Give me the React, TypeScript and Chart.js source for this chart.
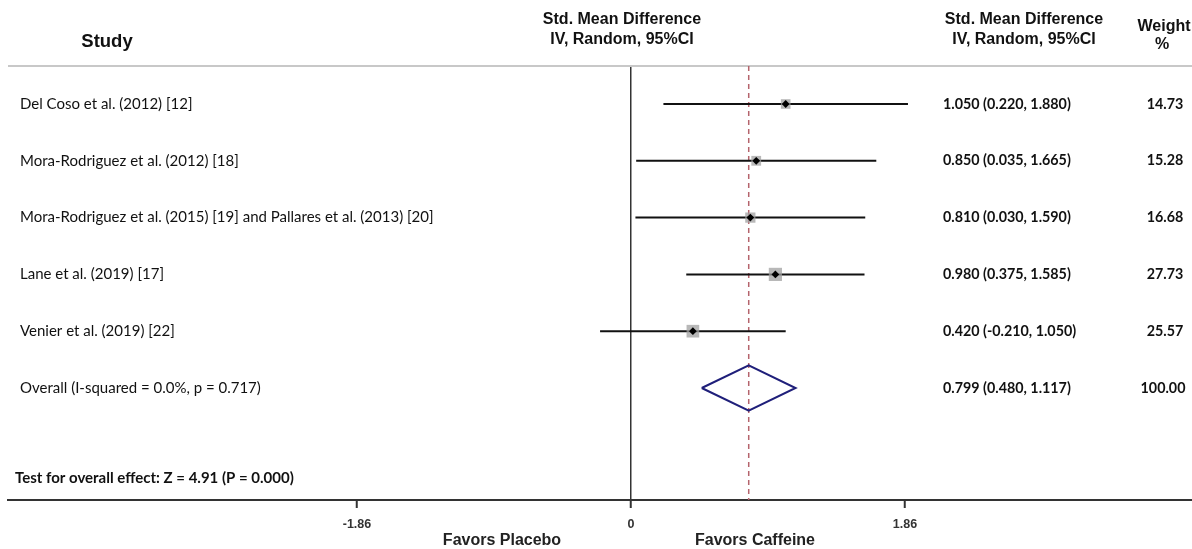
import React, { useEffect, useRef } from "react";
import { Chart, registerables } from "chart.js";

Chart.register(...registerables);

const studies = [
  "Del Coso et al. (2012) [12]",
  "Mora-Rodriguez et al. (2012) [18]",
  "Mora-Rodriguez et al. (2015) [19] and Pallares et al. (2013) [20]",
  "Lane et al. (2019) [17]",
  "Venier et al. (2019) [22]",
];
const estimates = [1.05, 0.85, 0.81, 0.98, 0.42];
const lowerCI = [0.22, 0.035, 0.03, 0.375, -0.21];
const upperCI = [1.88, 1.665, 1.59, 1.585, 1.05];
const weights = [14.73, 15.28, 16.68, 27.73, 25.57];

const overallLabel = "Overall (I-squared = 0.0%, p = 0.717)";
const pooledEstimate = 0.799;
const pooledLower = 0.48;
const pooledUpper = 1.117;
const pooledWeight = 100.0;

const axisTicks = [-1.86, 0, 1.86];
const testText = "Test for overall effect: Z = 4.91 (P = 0.000)";
const leftFavor = "Favors Placebo";
const rightFavor = "Favors Caffeine";

const X_MIN = -4.229;
const X_MAX = 3.808;
const Y_MIN = -0.669;
const Y_MAX = 6.972;

const fmt3 = (v: number) => v.toFixed(3);
const ARIAL = "'Liberation Sans', Arial, sans-serif";

export default function App() {
  const ref = useRef<HTMLCanvasElement | null>(null);

  useEffect(() => {
    if (!ref.current) return;
    const overallRow = studies.length;

    const ciDatasets = studies.map((_, i) => ({
      type: "line" as const,
      data: [
        { x: lowerCI[i], y: i },
        { x: upperCI[i], y: i },
      ],
      borderColor: "#111",
      borderWidth: 2,
      pointRadius: 0,
      order: 3,
    }));

    const textPlugin = {
      id: "forestText",
      beforeDatasetsDraw(chart: any) {
        const { ctx, chartArea } = chart;
        ctx.save();
        ctx.strokeStyle = "#c8c8c8";
        ctx.lineWidth = 2;
        ctx.beginPath();
        ctx.moveTo(8, chartArea.top);
        ctx.lineTo(1192, chartArea.top);
        ctx.stroke();
        ctx.restore();
      },
      afterDraw(chart: any) {
        const { ctx } = chart;
        const ys = chart.scales.y;
        ctx.save();
        ctx.fillStyle = "#111";
        ctx.textBaseline = "middle";

        // Headers
        ctx.font = `bold 18.5px ${ARIAL}`;
        ctx.textAlign = "center";
        ctx.fillText("Study", 107, 42);
        ctx.font = `bold 16px ${ARIAL}`;
        ctx.fillText("Std. Mean Difference", 622, 20);
        ctx.fillText("IV, Random, 95%CI", 622, 40);
        ctx.fillText("Std. Mean Difference", 1024, 20);
        ctx.fillText("IV, Random, 95%CI", 1024, 40);
        ctx.fillText("Weight", 1164, 27);
        ctx.fillText("%", 1162, 45);

        // Rows
        studies.forEach((s, i) => {
          const y = ys.getPixelForValue(i);
          ctx.textAlign = "left";
          ctx.font = "15px Lato, sans-serif";
          ctx.fillText(s, 20, y);
          ctx.font = "bold 14.3px Lato, sans-serif";
          ctx.fillText(
            `${fmt3(estimates[i])} (${fmt3(lowerCI[i])}, ${fmt3(upperCI[i])})`,
            943,
            y
          );
          ctx.textAlign = "center";
          ctx.fillText(weights[i].toFixed(2), 1165, y);
        });
        const yo = ys.getPixelForValue(overallRow);
        ctx.textAlign = "left";
        ctx.font = "15px Lato, sans-serif";
        ctx.fillText(overallLabel, 20, yo);
        ctx.font = "bold 14.3px Lato, sans-serif";
        ctx.fillText(
          `${fmt3(pooledEstimate)} (${fmt3(pooledLower)}, ${fmt3(pooledUpper)})`,
          943,
          yo
        );
        ctx.textAlign = "center";
        ctx.fillText(pooledWeight.toFixed(2), 1163, yo);

        // Test text
        ctx.textAlign = "left";
        ctx.font = "bold 15px Lato, sans-serif";
        ctx.fillText(testText, 15, 478);

        // Favors labels
        ctx.textAlign = "center";
        ctx.font = `bold 16px ${ARIAL}`;
        ctx.fillStyle = "#222";
        ctx.fillText(leftFavor, 502, 541);
        ctx.fillText(rightFavor, 755, 541);
        ctx.restore();
      },
    };

    const chart = new Chart(ref.current, {
      type: "scatter",
      data: {
        datasets: [
          {
            type: "line",
            data: [
              { x: pooledEstimate, y: Y_MIN },
              { x: pooledEstimate, y: Y_MAX },
            ],
            borderColor: "#b5646c",
            borderWidth: 1.5,
            borderDash: [5, 4],
            pointRadius: 0,
            order: 5,
          },
          ...ciDatasets,
          {
            type: "scatter",
            data: estimates.map((e, i) => ({ x: e, y: i })),
            pointStyle: "rect",
            pointRadius: weights.map((w) => 1.77 * Math.sqrt(w)),
            backgroundColor: "rgba(160,160,160,0.75)",
            borderWidth: 0,
            order: 2,
          },
          {
            type: "scatter",
            data: estimates.map((e, i) => ({ x: e, y: i })),
            pointStyle: "rectRot",
            pointRadius: 3.9,
            backgroundColor: "#000",
            borderWidth: 0,
            order: 1,
          },
          {
            type: "line",
            data: [
              { x: pooledLower, y: overallRow },
              { x: pooledEstimate, y: overallRow - 0.4 },
              { x: pooledUpper, y: overallRow },
              { x: pooledEstimate, y: overallRow + 0.4 },
              { x: pooledLower, y: overallRow },
            ],
            borderColor: "#1f1f7a",
            borderWidth: 2,
            pointRadius: 0,
            tension: 0,
            fill: false,
            order: 1,
          },
        ] as any,
      },
      options: {
        animation: false,
        responsive: false,
        maintainAspectRatio: false,
        layout: { autoPadding: false, padding: { left: 8, right: 0, top: 66, bottom: 0 } },
        plugins: {
          legend: { display: false },
          tooltip: { enabled: false },
        },
        scales: {
          x: {
            type: "linear",
            min: X_MIN,
            max: X_MAX,
            afterBuildTicks: (scale: any) => {
              scale.ticks = axisTicks.map((v) => ({ value: v }));
            },
            afterFit: (scale: any) => {
              scale.height = 49;
            },
            border: { display: true, color: "#333", width: 2 },
            grid: {
              drawOnChartArea: true,
              drawTicks: true,
              tickLength: 8,
              color: (c: any) =>
                c.tick && c.tick.value === 0 ? "#333" : "rgba(0,0,0,0)",
              tickColor: "#333",
              lineWidth: 1.5,
              tickWidth: 2,
            },
            ticks: {
              padding: 9,
              color: "#333",
              font: { family: ARIAL, size: 12.5, weight: "bold" },
              callback: (v: any) => String(v),
              maxRotation: 0,
              autoSkip: false,
            },
          },
          y: {
            type: "linear",
            display: false,
            reverse: true,
            min: Y_MIN,
            max: Y_MAX,
          },
        },
      },
      plugins: [textPlugin],
    } as any);

    return () => chart.destroy();
  }, []);

  return (
    <div style={{ position: "absolute", left: 0, top: 0, width: 1192, height: 549, background: "#fff" }}>
      <canvas ref={ref} width={1192} height={549} style={{ display: "block", width: 1192, height: 549 }} />
    </div>
  );
}
